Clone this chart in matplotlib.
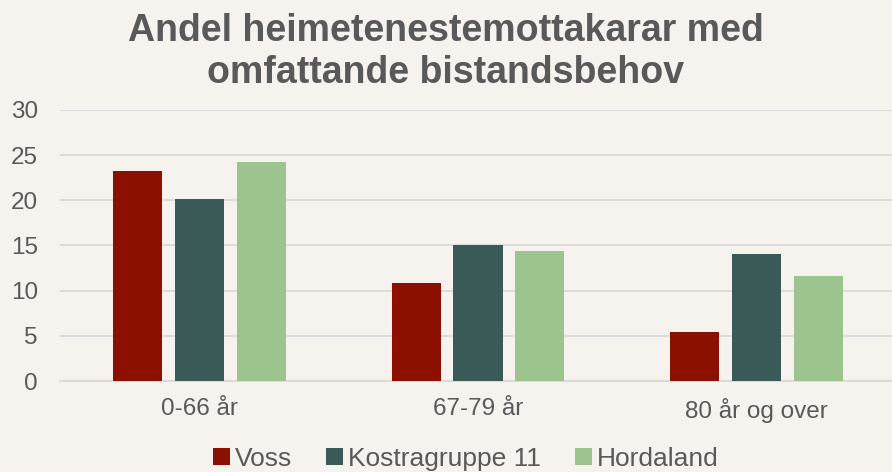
import matplotlib
matplotlib.use("Agg")
import matplotlib.pyplot as plt
import numpy as np

categories = ["0-66 år", "67-79 år", "80 år og over"]
series_names = ["Voss", "Kostragruppe 11", "Hordaland"]
voss = [23.2, 10.9, 5.4]
kostra = [20.1, 15.0, 14.1]
hordaland = [24.2, 14.4, 11.6]
colors = ["#8B1000", "#3A5A58", "#9DC38E"]

plt.rcParams['font.family'] = ['Liberation Sans', 'DejaVu Sans']
bg = "#F6F3EE"
txt = "#595959"

fig = plt.figure(figsize=(8.92, 4.72), dpi=100, facecolor=bg)
ax = fig.add_axes([60/892, 1-381/472, (896-60)/892, (381-110)/472], facecolor=bg)

x = np.arange(len(categories))
w = 0.176
off = 0.222
for i, (vals, name) in enumerate(zip([voss, kostra, hordaland], series_names)):
    ax.bar(x + (i-1)*off, vals, width=w, color=colors[i], label=name, zorder=3)

ax.set_xlim(-0.5, 2.5)
ax.set_ylim(0, 30)
ax.set_yticks(range(0, 31, 5))
ax.grid(axis='y', color='#D9D9D9', linewidth=1.3, zorder=0)
for s in ax.spines.values():
    s.set_visible(False)
ax.spines['bottom'].set_visible(True)
ax.spines['bottom'].set_color('#D9D9D9')
ax.spines['bottom'].set_linewidth(1.3)
ax.tick_params(axis='both', length=0, labelsize=17.5, colors=txt)
ax.tick_params(axis='y', pad=16)
ax.tick_params(axis='x', pad=12)
ax.set_xticks(x)
ax.set_xticklabels(categories)

fig.text(0.5, 1-52/472, "Andel heimetenestemottakarar med\nomfattande bistandsbehov",
         ha='center', va='center', fontsize=27, fontweight='bold', color=txt, linespacing=1.2)

leg = fig.legend(loc='center', bbox_to_anchor=(466/892, 1-459/472), ncol=3, frameon=False,
                 fontsize=19, handlelength=0.62, handleheight=0.62, handletextpad=0.2,
                 columnspacing=1.3, labelcolor=txt)

fig.savefig("out.png", dpi=100, facecolor=bg)
